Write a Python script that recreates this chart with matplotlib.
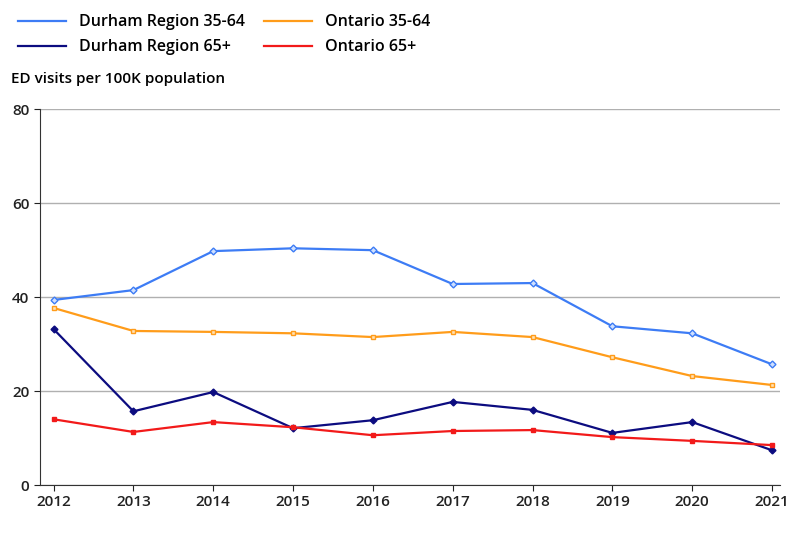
import matplotlib.pyplot as plt

years = [2012, 2013, 2014, 2015, 2016, 2017, 2018, 2019, 2020, 2021]
durham_35_64 = [39.4, 41.5, 49.8, 50.4, 50.0, 42.8, 43.0, 33.8, 32.3, 25.7]
ontario_35_64 = [37.7, 32.8, 32.6, 32.3, 31.5, 32.6, 31.5, 27.2, 23.2, 21.3]
durham_65 = [33.2, 15.7, 19.8, 12.1, 13.8, 17.7, 16.0, 11.1, 13.4, 7.4]
ontario_65 = [14.0, 11.3, 13.4, 12.3, 10.6, 11.5, 11.7, 10.2, 9.4, 8.5]

plt.rcParams['font.family'] = ['Open Sans', 'DejaVu Sans']
fig = plt.figure(figsize=(8, 5.33), dpi=100)
ax = fig.add_axes([0.05, 0.09, 0.925, 0.705])

l1, = ax.plot(years, durham_35_64, color='#3d7cf5', lw=1.6, marker='D', ms=3.5, mfc='#cfe0ff')
l3, = ax.plot(years, ontario_35_64, color='#ff9c1a', lw=1.6, marker='s', ms=3.5, mfc='#ffe2b8')
l2, = ax.plot(years, durham_65, color='#0c0c80', lw=1.6, marker='D', ms=3.5)
l4, = ax.plot(years, ontario_65, color='#f21a1a', lw=1.6, marker='s', ms=3.5)

ax.set_ylim(0, 80)
ax.set_yticks([0, 20, 40, 60, 80])
ax.set_xlim(2011.83, 2021.1)
ax.set_xticks(years)
ax.grid(axis='y', color='#b0b0b0', lw=1)
ax.set_axisbelow(True)
for s in ['top', 'right']:
    ax.spines[s].set_visible(False)
ax.spines['left'].set_color('#333333')
ax.spines['bottom'].set_color('#333333')
ax.tick_params(labelsize=11, length=4, colors='#222222')
for t in ax.get_xticklabels() + ax.get_yticklabels():
    t.set_fontweight('semibold')

fig.text(0.014, 0.845, 'ED visits per 100K population', fontsize=11, fontweight='semibold')
fig.legend([l1, l2, l3, l4], ['Durham Region 35-64', 'Durham Region 65+', 'Ontario 35-64', 'Ontario 65+'],
           ncol=2, loc='upper left', bbox_to_anchor=(0.005, 1.0), frameon=False,
           handlelength=3, columnspacing=1.2, labelspacing=0.55,
           prop={'weight': 'semibold', 'size': 11.5})
for h in fig.legends[0].get_lines():
    h.set_marker('')

fig.savefig('out.png')
